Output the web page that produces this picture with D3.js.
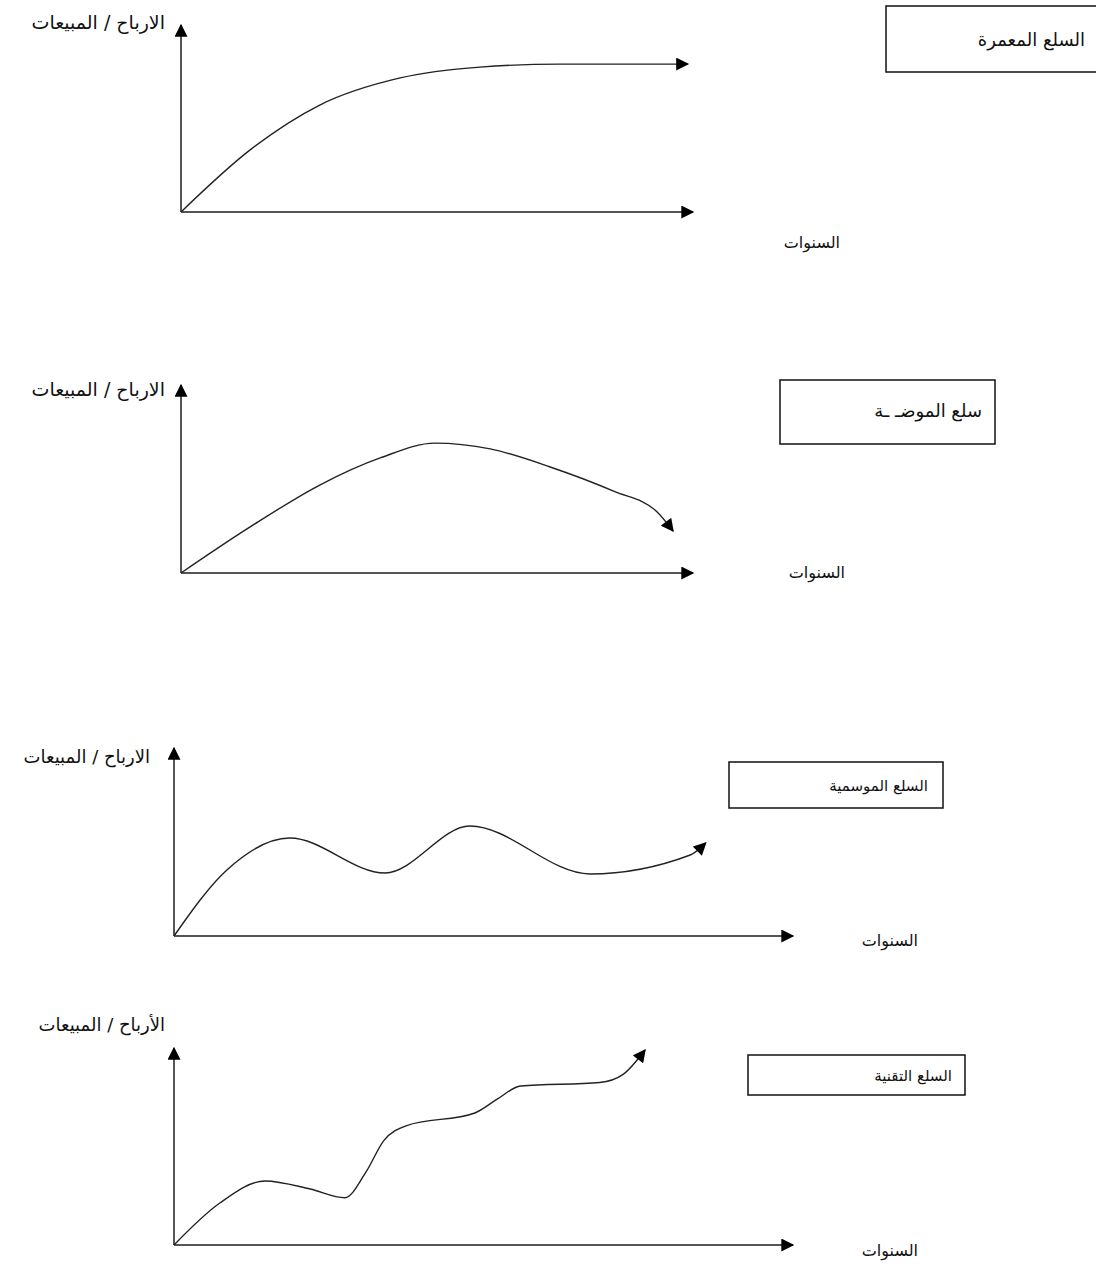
<!DOCTYPE html>
<html lang="ar">
<head>
<meta charset="utf-8">
<script src="https://cdn.jsdelivr.net/npm/d3@7"></script>
<style>
  html, body { margin: 0; padding: 0; background: #fff; }
  svg { display: block; }
  text { font-family: "DejaVu Sans", "Noto Sans", sans-serif; fill: #111; }
</style>
</head>
<body>
<svg id="chart" width="1096" height="1271"></svg>
<script>
// Axis captions
const yAxisLabels = ["الارباح / المبيعات", "الارباح / المبيعات", "الارباح / المبيعات", "الأرباح / المبيعات"];
const xAxisLabel = "السنوات";
const productTypes = ["السلع المعمرة", "سلع الموضـ ـة", "السلع الموسمية", "السلع التقنية"];

// Sales / profit paths over the years (x: years 0–100, y: level 0–100)
const durableYears  = [0, 13.5, 27.1, 42.8, 58.4, 74, 99];
const durableLevel  = [0, 33.2, 57.2, 71.7, 77.5, 79.1, 79.1];

const fashionYears  = [0, 13.5, 27.1, 38.9, 49.6, 60.4, 72.1, 84.5, 93.0, 96.1];
const fashionLevel  = [0, 24.5, 46.8, 61.2, 69.1, 66, 56.4, 43.5, 32.5, 22.3];

const seasonalYears = [0, 8.5, 18.7, 34.1, 47.8, 67.2, 83.4, 85.9];
const seasonalLevel = [0, 35.0, 52.1, 33.5, 58.5, 33.0, 43.1, 49.5];

const techYears     = [0, 7.4, 14.7, 22.0, 27.6, 31.0, 33.9, 37.5, 48.6, 52.2, 56.0, 68.8, 72.5, 76.1];
const techLevel     = [0, 21.3, 32.5, 28.4, 24.0, 37.0, 53.0, 60.5, 67.0, 74.0, 80.7, 82.5, 86.5, 99.0];

const panels = [
  { years: durableYears,  level: durableLevel,
    x0: 181, x1: 693, y0: 212, y1: 25,
    ylab: [165, 29], ylfs: 19, xlab: [840, 248], box: [886, 6, 215, 66], boxText: [1085, 46], fs: 18 },
  { years: fashionYears,  level: fashionLevel,
    x0: 181, x1: 693, y0: 573, y1: 385,
    ylab: [165, 396], ylfs: 19, xlab: [845, 578], box: [780, 380, 215, 64], boxText: [982, 417], fs: 18 },
  { years: seasonalYears, level: seasonalLevel,
    x0: 174, x1: 793, y0: 936, y1: 748,
    ylab: [150, 763], ylfs: 18, xlab: [918, 946], box: [729, 762, 214, 46], boxText: [928, 791], fs: 15 },
  { years: techYears,     level: techLevel,
    x0: 174, x1: 793, y0: 1245, y1: 1048,
    ylab: [165, 1031], ylfs: 18, xlab: [918, 1256], box: [748, 1055, 217, 40], boxText: [952, 1081], fs: 15 }
];

const svg = d3.select("#chart");

svg.append("defs").append("marker")
  .attr("id", "arrow")
  .attr("viewBox", "0 0 10 10")
  .attr("refX", 9).attr("refY", 5)
  .attr("markerWidth", 14).attr("markerHeight", 13)
  .attr("markerUnits", "userSpaceOnUse")
  .attr("orient", "auto")
  .append("path")
  .attr("d", "M0,0 L10,5 L0,10 Z")
  .attr("fill", "#000");

panels.forEach((p, i) => {
  const x = d3.scaleLinear().domain([0, 100]).range([p.x0, p.x1]);
  const y = d3.scaleLinear().domain([0, 100]).range([p.y0, p.y1]);
  const g = svg.append("g");

  // axes
  g.append("line")
    .attr("x1", x(0)).attr("y1", y(0)).attr("x2", x(100)).attr("y2", y(0))
    .attr("stroke", "#555").attr("stroke-width", 2)
    .attr("marker-end", "url(#arrow)");
  g.append("line")
    .attr("x1", x(0)).attr("y1", y(0)).attr("x2", x(0)).attr("y2", y(100))
    .attr("stroke", "#555").attr("stroke-width", 2)
    .attr("marker-end", "url(#arrow)");

  // curve
  const pts = p.years.map((v, k) => [v, p.level[k]]);
  const line = d3.line().x(d => x(d[0])).y(d => y(d[1])).curve(d3.curveMonotoneX);
  g.append("path")
    .datum(pts)
    .attr("d", line)
    .attr("fill", "none")
    .attr("stroke", "#222").attr("stroke-width", 1.4)
    .attr("marker-end", "url(#arrow)");

  // axis captions
  g.append("text")
    .attr("x", p.ylab[0]).attr("y", p.ylab[1])
    .attr("text-anchor", "start").attr("direction", "rtl")
    .attr("font-size", p.ylfs)
    .text(yAxisLabels[i]);
  g.append("text")
    .attr("x", p.xlab[0]).attr("y", p.xlab[1])
    .attr("text-anchor", "start").attr("direction", "rtl")
    .attr("font-size", 16)
    .text(xAxisLabel);

  // product type box
  g.append("rect")
    .attr("x", p.box[0]).attr("y", p.box[1])
    .attr("width", p.box[2]).attr("height", p.box[3])
    .attr("fill", "none").attr("stroke", "#111").attr("stroke-width", 1.5);
  g.append("text")
    .attr("x", p.boxText[0]).attr("y", p.boxText[1])
    .attr("text-anchor", "start").attr("direction", "rtl")
    .attr("font-size", p.fs)
    .text(productTypes[i]);
});
</script>
</body>
</html>
